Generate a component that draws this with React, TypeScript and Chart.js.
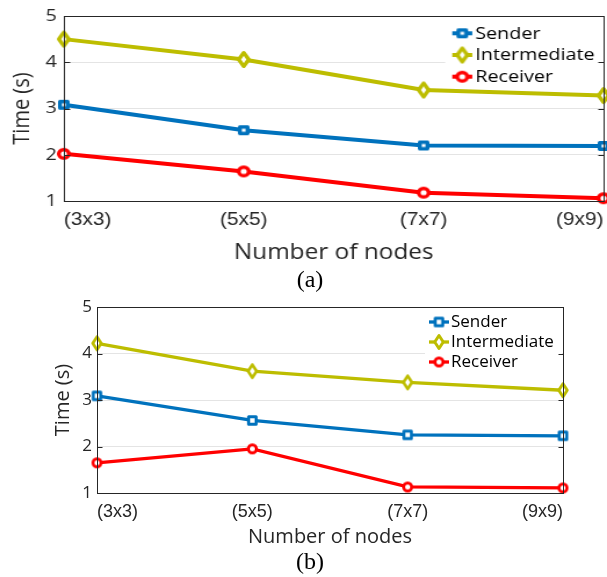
import React, { useEffect, useRef } from 'react';
import { Chart, registerables } from 'chart.js';

Chart.register(...registerables);

// ---------------- data ----------------
const categories = ['(3x3)', '(5x5)', '(7x7)', '(9x9)'];
const yTickValues = [1, 2, 3, 4, 5];
const gridValues = [2, 3, 4];
const seriesNames = ['Sender', 'Intermediate', 'Receiver'];
const senderA = [3.08, 2.53, 2.2, 2.19];
const intermediateA = [4.5, 4.06, 3.4, 3.28];
const receiverA = [2.02, 1.64, 1.18, 1.06];
const senderB = [3.09, 2.56, 2.25, 2.23];
const intermediateB = [4.22, 3.62, 3.38, 3.21];
const receiverB = [1.65, 1.95, 1.13, 1.11];
const xAxisTitle = 'Number of nodes';
const yAxisTitle = 'Time (s)';
const captionA = '(a)';
const captionB = '(b)';

// ---------------- styles ----------------
const COLORS = ['#0072BD', '#BDBD00', '#FF0000'];
const SHAPES = ['square', 'diamond', 'circle'];
const TEXT = '#262626';
const GRID = '#e4e4e4';

type Panel = {
  width: number;
  height: number;
  padTop: number;
  padRight: number;
  yAxisWidth: number;
  xAxisHeight: number;
  xTickPad: number;
  yTickPad: number;
  xTitleSize: number;
  xTitlePadBottom: number;
  yTitlePadTop: number;
  lineWidth: number;
  markerLw: number;
  square: number;
  diamondW: number;
  diamondH: number;
  circle: number;
  legend: { bgLeft: number; bgBottom: number; lineX0: number; lineX1: number; textX: number; rowY: number[] };
};

const panelA: Panel = {
  width: 523,
  height: 270,
  padTop: 16,
  padRight: 3,
  yAxisWidth: 55,
  xAxisHeight: 69,
  xTickPad: 8,
  yTickPad: 6,
  xTitleSize: 21,
  xTitlePadBottom: 4.4,
  yTitlePadTop: 7,
  lineWidth: 4,
  markerLw: 3.4,
  square: 10,
  diamondW: 12,
  diamondH: 17,
  circle: 12,
  legend: { bgLeft: 383.6, bgBottom: 88, lineX0: 389.7, lineX1: 406.9, textX: 409.5, rowY: [33.3, 55, 76.7] },
};

const panelB: Panel = {
  width: 607,
  height: 259,
  padTop: 17,
  padRight: 44,
  yAxisWidth: 97,
  xAxisHeight: 56,
  xTickPad: 8.5,
  yTickPad: 5,
  xTitleSize: 20,
  xTitlePadBottom: 0,
  yTitlePadTop: 51,
  lineWidth: 3.3,
  markerLw: 3,
  square: 10.5,
  diamondW: 11.5,
  diamondH: 16,
  circle: 11,
  legend: { bgLeft: 425, bgBottom: 84, lineX0: 429, lineX1: 449, textX: 451, rowY: [32, 52, 72] },
};

function makeMarker(shape: string, color: string, p: Panel): HTMLCanvasElement {
  const lw = p.markerLw;
  let w = p.square, h = p.square;
  if (shape === 'diamond') { w = p.diamondW; h = p.diamondH; }
  if (shape === 'circle') { w = p.circle; h = p.circle; }
  const cw = Math.ceil(w + 2);
  const chh = Math.ceil(h + 2);
  const c = document.createElement('canvas');
  c.width = cw;
  c.height = chh;
  const ctx = c.getContext('2d')!;
  const cx = cw / 2, cy = chh / 2;
  const iw = w - lw, ih = h - lw;
  ctx.lineWidth = lw;
  ctx.strokeStyle = color;
  ctx.fillStyle = '#ffffff';
  ctx.lineJoin = 'round';
  ctx.beginPath();
  if (shape === 'square') {
    ctx.rect(cx - iw / 2, cy - ih / 2, iw, ih);
  } else if (shape === 'diamond') {
    ctx.moveTo(cx, cy - ih / 2);
    ctx.lineTo(cx + iw / 2, cy);
    ctx.lineTo(cx, cy + ih / 2);
    ctx.lineTo(cx - iw / 2, cy);
    ctx.closePath();
  } else {
    ctx.arc(cx, cy, iw / 2, 0, Math.PI * 2);
  }
  ctx.fill();
  ctx.stroke();
  return c;
}

const decoPlugin = {
  id: 'panelDeco',
  beforeDatasetsDraw(chart: any, _args: any, opts: any) {
    const p: Panel = opts.panel;
    const { ctx, chartArea } = chart;
    ctx.save();
    ctx.fillStyle = '#ffffff';
    ctx.fillRect(p.legend.bgLeft, chartArea.top + 1, chartArea.right - p.legend.bgLeft - 1, p.legend.bgBottom - chartArea.top);
    ctx.restore();
  },
  afterDraw(chart: any, _args: any, opts: any) {
    const p: Panel = opts.panel;
    const markers: HTMLCanvasElement[] = opts.markers;
    const { ctx, chartArea } = chart;
    const yScale = chart.scales.y;
    ctx.save();
    // legend items
    chart.data.datasets.forEach((ds: any, i: number) => {
      const y = p.legend.rowY[i];
      ctx.strokeStyle = ds.borderColor;
      ctx.lineWidth = p.lineWidth;
      ctx.beginPath();
      ctx.moveTo(p.legend.lineX0, y);
      ctx.lineTo(p.legend.lineX1, y);
      ctx.stroke();
      const m = markers[i];
      ctx.drawImage(m, (p.legend.lineX0 + p.legend.lineX1) / 2 - m.width / 2, y - m.height / 2);
      ctx.fillStyle = '#000000';
      ctx.font = '17px "Open Sans"';
      ctx.textBaseline = 'middle';
      ctx.textAlign = 'left';
      ctx.fillText(ds.label, p.legend.textX, y + 0.5);
    });
    // frame
    ctx.strokeStyle = TEXT;
    ctx.lineWidth = 1;
    const l = Math.round(chartArea.left) + 0.5;
    const r = Math.round(chartArea.right) + 0.5;
    const t = Math.round(chartArea.top) + 0.5;
    const b = Math.round(chartArea.bottom) + 0.5;
    ctx.strokeRect(l, t, r - l, b - t);
    // inner ticks
    ctx.beginPath();
    gridValues.forEach((v) => {
      const y = Math.round(yScale.getPixelForValue(v)) + 0.5;
      ctx.moveTo(l, y);
      ctx.lineTo(l + 5, y);
      ctx.moveTo(r - 5, y);
      ctx.lineTo(r, y);
    });
    ctx.stroke();
    ctx.restore();
  },
};

function makeConfig(p: Panel, series: number[][]): any {
  const markers = SHAPES.map((s, i) => makeMarker(s, COLORS[i], p));
  return {
    type: 'line',
    data: {
      labels: categories,
      datasets: series.map((values, i) => ({
        label: seriesNames[i],
        data: values,
        borderColor: COLORS[i],
        backgroundColor: COLORS[i],
        borderWidth: p.lineWidth,
        pointStyle: markers[i],
        pointRadius: 5,
        pointHoverRadius: 5,
        tension: 0,
        fill: false,
        clip: false,
      })),
    },
    options: {
      responsive: false,
      animation: false,
      events: [],
      layout: { autoPadding: false, padding: { left: 0, right: p.padRight, top: p.padTop, bottom: 0 } },
      plugins: {
        legend: { display: false },
        tooltip: { enabled: false },
        panelDeco: { panel: p, markers },
      },
      scales: {
        x: {
          type: 'category',
          offset: false,
          grid: { display: false, drawTicks: false },
          border: { display: false },
          ticks: {
            align: 'inner',
            padding: p.xTickPad,
            maxRotation: 0,
            autoSkip: false,
            color: TEXT,
            font: { family: 'Liberation Sans', size: 18 },
          },
          title: {
            display: true,
            text: xAxisTitle,
            color: TEXT,
            font: { family: 'Open Sans', size: p.xTitleSize },
            padding: { top: 0, bottom: p.xTitlePadBottom },
          },
          afterFit: (s: any) => {
            s.height = p.xAxisHeight;
            s.paddingLeft = 0;
            s.paddingRight = 0;
          },
        },
        y: {
          min: 1,
          max: 5,
          afterBuildTicks: (s: any) => { s.ticks = yTickValues.map((v) => ({ value: v })); },
          grid: {
            drawTicks: false,
            lineWidth: 1,
            color: (c: any) => (c.tick && gridValues.includes(c.tick.value) ? GRID : 'rgba(0,0,0,0)'),
          },
          border: { display: false },
          ticks: {
            padding: p.yTickPad,
            color: TEXT,
            font: { family: 'Open Sans', size: 17 },
          },
          title: {
            display: true,
            text: yAxisTitle,
            color: TEXT,
            font: { family: 'Open Sans', size: 20 },
            padding: { top: p.yTitlePadTop, bottom: 0 },
          },
          afterFit: (s: any) => {
            s.width = p.yAxisWidth;
            s.paddingTop = 0;
            s.paddingBottom = 0;
          },
        },
      },
    },
    plugins: [decoPlugin],
  };
}

export default function App() {
  const refA = useRef<HTMLCanvasElement>(null);
  const refB = useRef<HTMLCanvasElement>(null);

  useEffect(() => {
    const a = new Chart(refA.current!, makeConfig(panelA, [senderA, intermediateA, receiverA]));
    const b = new Chart(refB.current!, makeConfig(panelB, [senderB, intermediateB, receiverB]));
    return () => {
      a.destroy();
      b.destroy();
    };
  }, []);

  const captionStyle: React.CSSProperties = {
    position: 'absolute',
    left: 260,
    width: 100,
    textAlign: 'center',
    fontFamily: '"Liberation Serif", "Times New Roman", serif',
    fontSize: 24,
    lineHeight: '24px',
    color: '#000',
  };

  return (
    <div style={{ position: 'absolute', left: 0, top: 0, width: 607, height: 577, background: '#fff', overflow: 'hidden' }}>
      <canvas
        ref={refA}
        width={panelA.width}
        height={panelA.height}
        style={{
          position: 'absolute',
          left: 0,
          top: 0,
          width: panelA.width,
          height: panelA.height,
          transform: `scaleX(${607 / panelA.width})`,
          transformOrigin: '0 0',
        }}
      />
      <canvas
        ref={refB}
        width={panelB.width}
        height={panelB.height}
        style={{ position: 'absolute', left: 0, top: 290, width: panelB.width, height: panelB.height }}
      />
      <div style={{ ...captionStyle, top: 266.5 }}>{captionA}</div>
      <div style={{ ...captionStyle, top: 548.5 }}>{captionB}</div>
    </div>
  );
}
